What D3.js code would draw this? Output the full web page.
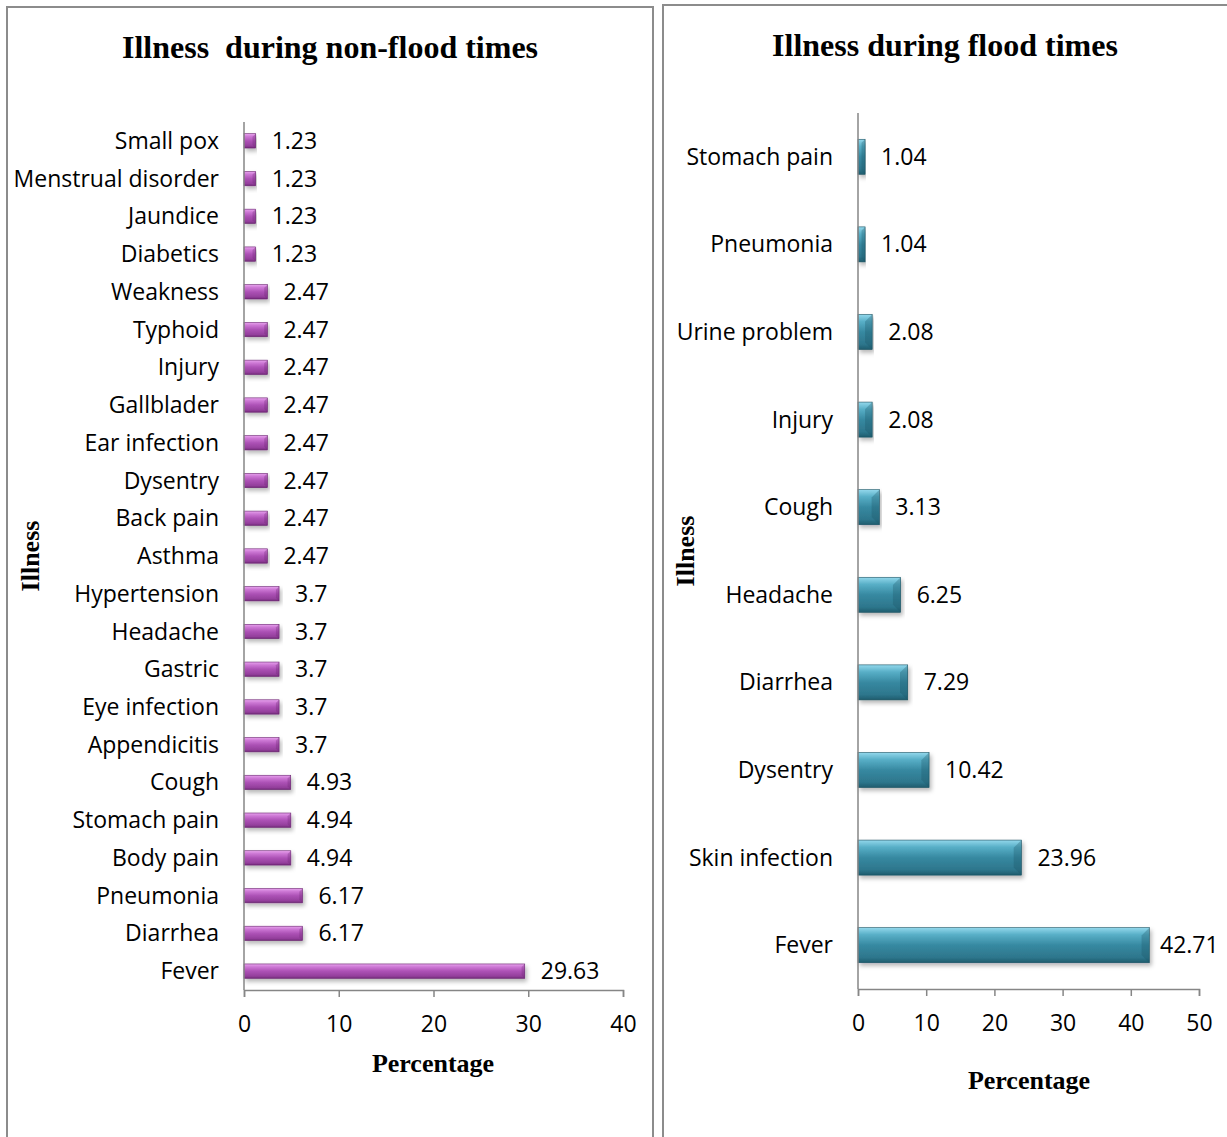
<!DOCTYPE html>
<html>
<head>
<meta charset="utf-8">
<script src="https://cdn.jsdelivr.net/npm/d3@7"></script>
<style>
  body { margin: 0; background: #fff; }
  .cat, .val { font-family: "Open Sans", sans-serif; font-size: 23px; fill: #000; }
  .title { font-family: "Liberation Serif", "Times New Roman", serif; font-weight: bold; font-size: 32px; }
  .axtitle { font-family: "Liberation Serif", "Times New Roman", serif; font-weight: bold; font-size: 26px; }
</style>
</head>
<body>
<svg id="chart" width="1227" height="1137"></svg>
<script>
// non-flood times (top to bottom as drawn)
const nonFloodIllness = ['Small pox', 'Menstrual disorder', 'Jaundice', 'Diabetics', 'Weakness', 'Typhoid',
    'Injury', 'Gallblader', 'Ear infection', 'Dysentry', 'Back pain', 'Asthma', 'Hypertension', 'Headache',
    'Gastric', 'Eye infection', 'Appendicitis', 'Cough', 'Stomach pain', 'Body pain', 'Pneumonia', 'Diarrhea', 'Fever'];
const nonFloodValues = [1.23, 1.23, 1.23, 1.23, 2.47, 2.47, 2.47, 2.47, 2.47, 2.47, 2.47, 2.47,
    3.7, 3.7, 3.7, 3.7, 3.7, 4.93, 4.94, 4.94, 6.17, 6.17, 29.63];
const nonFloodTicks = [0, 10, 20, 30, 40];

// flood times
const floodIllness = ['Stomach pain', 'Pneumonia', 'Urine problem', 'Injury', 'Cough', 'Headache',
    'Diarrhea', 'Dysentry', 'Skin infection', 'Fever'];
const floodValues = [1.04, 1.04, 2.08, 2.08, 3.13, 6.25, 7.29, 10.42, 23.96, 42.71];
const floodTicks = [0, 10, 20, 30, 40, 50];

const svg = d3.select('#chart');
const defs = svg.append('defs');

function makeGradient(id, stops) {
    const g = defs.append('linearGradient').attr('id', id)
        .attr('x1', 0).attr('y1', 0).attr('x2', 0).attr('y2', 1);
    stops.forEach(function (s) {
        g.append('stop').attr('offset', s[0]).attr('stop-color', s[1]);
    });
}
makeGradient('gradPurple', [[0, '#e8a4ee'], [0.2, '#cd78d5'], [0.5, '#ad52b6'], [0.85, '#943f9c'], [1, '#722a79']]);
makeGradient('gradTeal', [[0, '#93d8ec'], [0.2, '#58afc7'], [0.5, '#3789a1'], [0.85, '#2d768c'], [1, '#1f5c6d']]);

const shadow = defs.append('filter').attr('id', 'shadow')
    .attr('x', '-5%').attr('y', '-30%').attr('width', '115%').attr('height', '180%');
shadow.append('feDropShadow').attr('dx', 2).attr('dy', 3).attr('stdDeviation', 2)
    .attr('flood-color', '#000').attr('flood-opacity', 0.28);

// panel frames
svg.append('rect').attr('x', 7).attr('y', 7).attr('width', 646).attr('height', 1150)
    .attr('fill', 'none').attr('stroke', '#8c8c8c').attr('stroke-width', 2);
svg.append('rect').attr('x', 663).attr('y', 5).attr('width', 600).attr('height', 1150)
    .attr('fill', 'none').attr('stroke', '#8c8c8c').attr('stroke-width', 2);

function drawPanel(cfg) {
    const x = d3.scaleLinear().domain([0, cfg.max]).range([cfg.x0, cfg.x1]);
    const y = d3.scaleBand().domain(cfg.cats).range([cfg.y0, cfg.y1]).paddingInner(cfg.pad).paddingOuter(cfg.pad / 2);
    const g = svg.append('g');

    // bars
    g.selectAll('rect.bar').data(cfg.cats).enter().append('rect')
        .attr('class', 'bar')
        .attr('x', x(0))
        .attr('y', function (d) { return y(d); })
        .attr('width', function (d, i) { return x(cfg.values[i]) - x(0); })
        .attr('height', y.bandwidth())
        .attr('fill', 'url(#' + cfg.grad + ')')
        .attr('stroke', cfg.edge).attr('stroke-width', 0.6)
        .attr('filter', 'url(#shadow)');

    // soft bevel at right end
    g.selectAll('path.bevel').data(cfg.cats).enter().append('path')
        .attr('class', 'bevel')
        .attr('d', function (d, i) {
            const xe = x(cfg.values[i]), yt = y(d), h = y.bandwidth();
            const b = Math.min(h * 0.22, (xe - x(0)) / 2);
            return 'M' + xe + ',' + yt + 'L' + (xe - b) + ',' + (yt + b) + 'L' + (xe - b) + ',' + (yt + h - b) +
                'L' + xe + ',' + (yt + h) + 'Z';
        })
        .attr('fill', cfg.edge).attr('opacity', 0.3);

    // axes
    const xAxis = g.append('g').attr('transform', 'translate(0,' + cfg.y1 + ')')
        .call(d3.axisBottom(x).tickValues(cfg.ticks).tickSize(7).tickPadding(19));
    xAxis.select('.domain').attr('stroke', '#868686').attr('stroke-width', 1.5);
    xAxis.selectAll('.tick line').attr('stroke', '#868686').attr('stroke-width', 1.5);
    xAxis.selectAll('.tick text').style('font-family', '"Open Sans", sans-serif')
        .style('font-size', '23px').attr('fill', '#000');

    g.append('line').attr('x1', x(0)).attr('x2', x(0)).attr('y1', cfg.y0).attr('y2', cfg.y1)
        .attr('stroke', '#868686').attr('stroke-width', 1.5);

    // category labels
    g.selectAll('text.cat').data(cfg.cats).enter().append('text')
        .attr('class', 'cat')
        .attr('x', x(0) - 25)
        .attr('y', function (d) { return y(d) + y.bandwidth() / 2; })
        .attr('dy', '0.35em')
        .attr('text-anchor', 'end')
        .text(function (d) { return d; });

    // value labels
    g.selectAll('text.val').data(cfg.cats).enter().append('text')
        .attr('class', 'val')
        .attr('x', function (d, i) { return Math.min(x(cfg.values[i]) + cfg.gap, cfg.valMax); })
        .attr('y', function (d) { return y(d) + y.bandwidth() / 2; })
        .attr('dy', '0.35em')
        .text(function (d, i) { return cfg.values[i]; });

    // titles
    svg.append('text').attr('class', 'title').attr('x', cfg.titleX).attr('y', cfg.titleY)
        .attr('text-anchor', 'middle').attr('xml:space', 'preserve').text(cfg.title);
    svg.append('text').attr('class', 'axtitle').attr('x', cfg.xtX).attr('y', cfg.xtY)
        .attr('text-anchor', 'middle').text('Percentage');
    svg.append('text').attr('class', 'axtitle')
        .attr('transform', 'translate(' + cfg.ytX + ',' + cfg.ytY + ') rotate(-90)')
        .attr('text-anchor', 'middle').text('Illness');
}

drawPanel({
    cats: nonFloodIllness, values: nonFloodValues, ticks: nonFloodTicks, max: 40,
    x0: 244, x1: 623, y0: 122, y1: 990, pad: 0.62,
    grad: 'gradPurple', edge: '#6a2471', gap: 16, valMax: 1000,
    title: 'Illness  during non-flood times', titleX: 330, titleY: 58,
    xtX: 433, xtY: 1072, ytX: 39, ytY: 556
});

drawPanel({
    cats: floodIllness, values: floodValues, ticks: floodTicks, max: 50,
    x0: 858, x1: 1199, y0: 113, y1: 989, pad: 0.6,
    grad: 'gradTeal', edge: '#1b5262', gap: 16, valMax: 1160,
    title: 'Illness during flood times', titleX: 945, titleY: 56,
    xtX: 1029, xtY: 1089, ytX: 694, ytY: 551
});
</script>
</body>
</html>
